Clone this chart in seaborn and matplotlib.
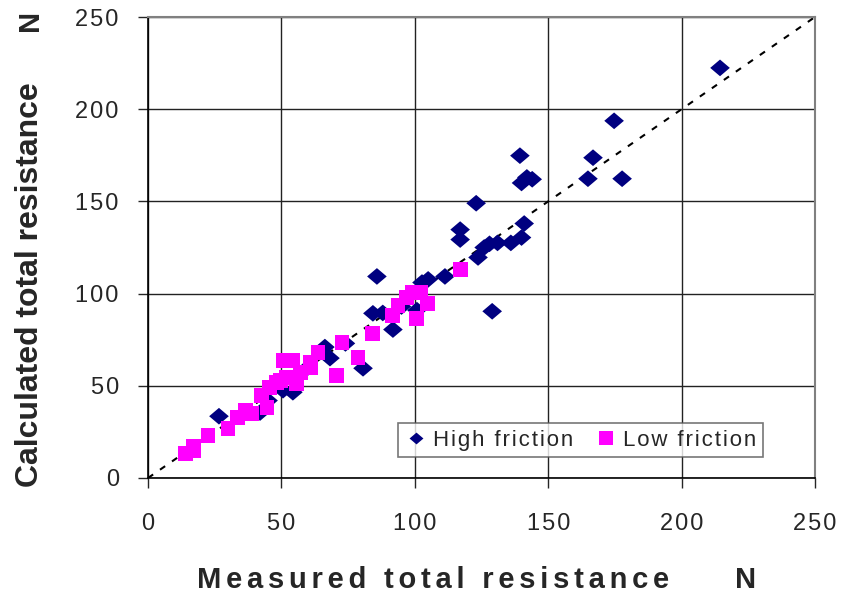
import matplotlib
matplotlib.use("Agg")
import matplotlib.pyplot as plt
import seaborn as sns
import pandas as pd

high_x = [214.4, 174.7, 166.8, 164.9, 177.7, 139.4, 140, 142, 144, 123, 117, 117, 141, 140,
          136, 131, 128, 126, 123.7, 129, 85.8, 105, 111.3, 102.7, 100.8, 91.8, 84.3, 88,
          80.6, 68.2, 66.3, 54.3, 50.6, 42, 26.6, 95, 60, 45, 74]
high_y = [222.4, 193.7, 173.7, 162.3, 162.3, 174.8, 160, 163, 162, 149, 134.7, 129.3, 138, 130.4,
          127.5, 127.5, 127, 125, 119.6, 90.4, 109.3, 107.7, 109.3, 106, 91, 80.5, 89.3, 89.5,
          59.5, 65, 71, 46.5, 47.6, 35.5, 33.5, 93, 60, 42, 73]
low_x = [13.9, 17, 17, 22.5, 30, 33.4, 36.4, 39, 44.6, 42.7, 45.7, 48.3, 50.6, 54.3, 55.8, 52,
         49.5, 60.7, 63.7, 72.7, 78.7, 70.8, 84, 91.5, 93.7, 97, 99, 102, 104.6, 100.8, 117, 61, 57]
low_y = [13.5, 15, 17, 23, 27, 33, 36.8, 35, 38.4, 44.9, 49.2, 52, 63.8, 63.8, 51.4, 54.6,
         53, 62.8, 68.2, 73.6, 65.5, 55.7, 78.5, 88.2, 93.6, 98, 100.6, 100.6, 94.7, 86.6, 113, 60, 57]
series = ["High friction", "Low friction"]
ticks = [0, 50, 100, 150, 200, 250]

HS = "\u200a"


def spaced(s, sep=HS):
    return sep.join(s)


df = pd.concat([
    pd.DataFrame({"x": high_x, "y": high_y, "Type": series[0]}),
    pd.DataFrame({"x": low_x, "y": low_y, "Type": series[1]}),
], ignore_index=True)

sns.set_style("white")
plt.rcParams["font.family"] = ["Liberation Sans", "DejaVu Sans"]

fig = plt.figure(figsize=(8.41, 5.98), dpi=100)
ax = fig.add_axes([148/841, 1 - 478/598, (815-148)/841, (478-17)/598])

ax.plot([0, 250], [0, 250], color="black", linestyle=(0, (3, 4)), linewidth=1.5, zorder=2)

diamond = [(-1, 0), (0, -0.85), (1, 0), (0, 0.85)]
sns.scatterplot(data=df, x="x", y="y", hue="Type", style="Type", size="Type",
                palette={series[0]: "#000080", series[1]: "#FF00FF"},
                markers={series[0]: diamond, series[1]: "s"},
                sizes={series[0]: 200, series[1]: 115},
                linewidth=0, ax=ax, zorder=3)

ax.set_xlim(0, 250)
ax.set_ylim(0, 250)
ax.set_xticks(ticks)
ax.set_yticks(ticks)
ax.set_xticklabels([spaced(str(t)) for t in ticks])
ax.set_yticklabels([spaced(str(t)) for t in ticks])
ax.grid(True, color="#222222", linewidth=1.0)
ax.set_axisbelow(True)
for side in ["left", "bottom"]:
    ax.spines[side].set_color("black")
    ax.spines[side].set_linewidth(1.2)
for side in ["top", "right"]:
    ax.spines[side].set_color("#808080")
    ax.spines[side].set_linewidth(1.5)
ax.tick_params(axis="x", direction="out", length=7, width=1, pad=18, labelsize=17, bottom=True)
ax.tick_params(axis="y", direction="out", length=7, width=1, pad=14, labelsize=17, left=True)

ax.set_xlabel("")
ax.set_ylabel("")
fig.text(433/841, 1 - 580/598, spaced("Measured total resistance", HS + HS), ha="center",
         va="center", fontsize=21, fontweight="bold")
fig.text(746/841, 1 - 580/598, "N", ha="center", va="center", fontsize=21, fontweight="bold")
fig.text(30/841, 1 - 285/598, "Calculated total resistance", ha="center", va="center",
         rotation=90, fontsize=23, fontweight="bold")
fig.text(30/841, 1 - 20/598, "N", ha="center", va="center", rotation=90,
         fontsize=21, fontweight="bold")

handles, labels = ax.get_legend_handles_labels()
for h in handles:
    h.set_markersize(10)
leg = ax.legend(handles, [spaced(l) for l in labels], ncol=2, loc="lower right",
                bbox_to_anchor=(0.922, 0.045), borderaxespad=0,
                fontsize=16, frameon=True, fancybox=False, handletextpad=0.25,
                columnspacing=1.0, handlelength=1.0, borderpad=0.3)
leg.get_frame().set_edgecolor("#555555")
leg.get_frame().set_linewidth(1.2)

fig.savefig("out.png", dpi=100)
